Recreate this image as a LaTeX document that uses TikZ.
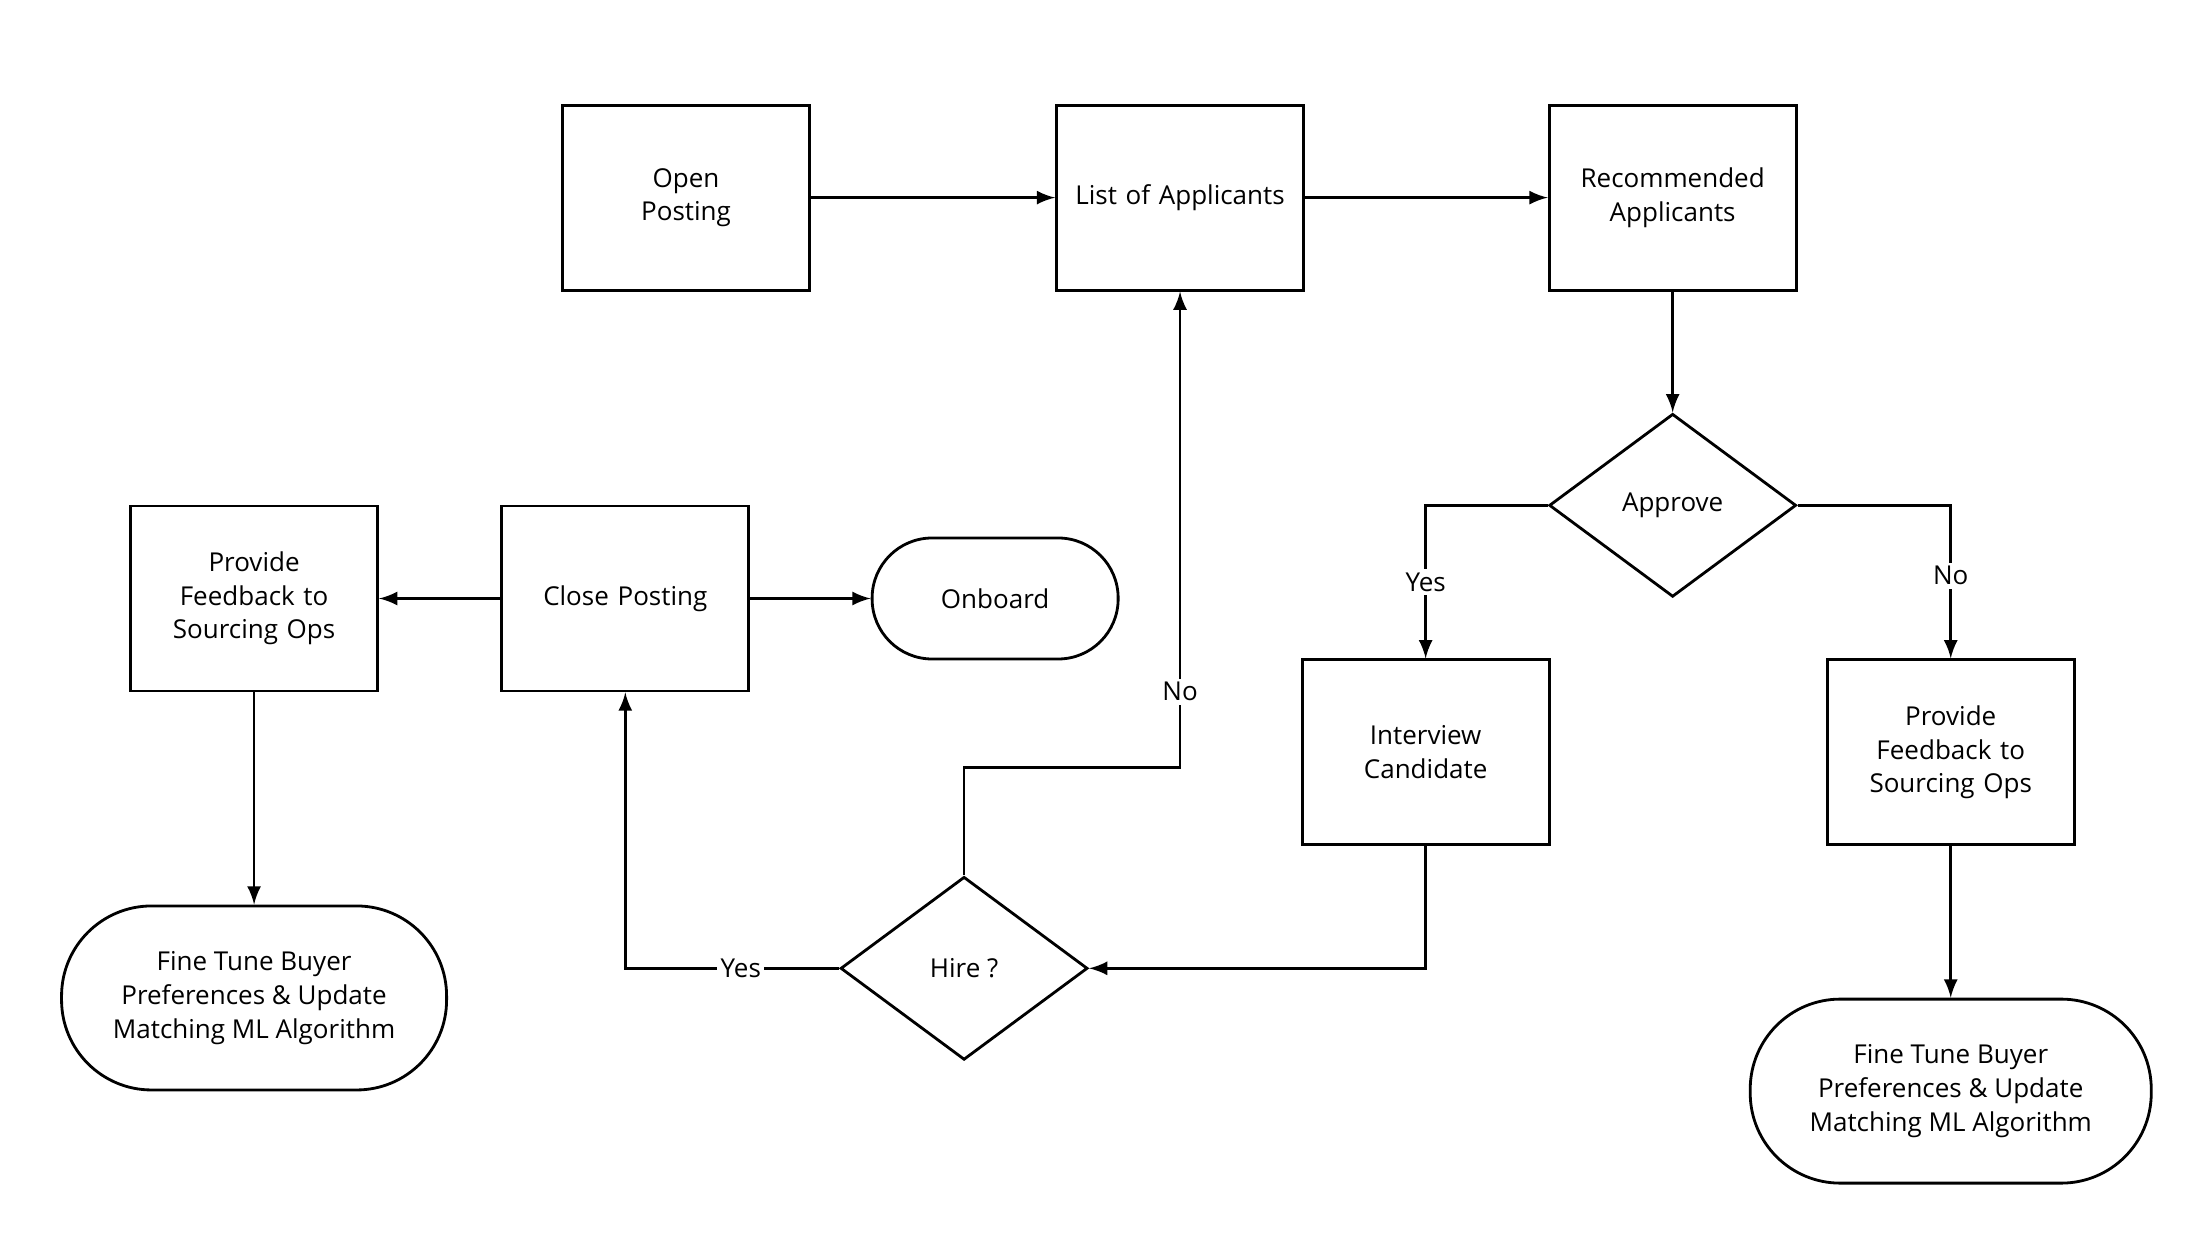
\documentclass[tikz,border=0pt]{standalone}
\usepackage{fontspec}
\setmainfont{Open Sans}
\usetikzlibrary{positioning, arrows, shapes.geometric, calc}
\tikzstyle{process} = [rectangle, minimum width=2.47cm, minimum height=1.85cm, text width=2.1cm, align=center, draw=black, line width=0.8pt]
\tikzstyle{decision} = [diamond, aspect=1.35, minimum width=2.47cm, minimum height=1.83cm, inner sep=0pt, align=center, draw=black, line width=0.8pt]
\tikzstyle{terminal} = [rectangle, rounded corners=0.6cm, minimum width=2.46cm, minimum height=1.21cm, align=center, draw=black, line width=0.8pt]
\tikzstyle{bigterminal} = [rectangle, rounded corners=0.9cm, minimum width=3.88cm, minimum height=1.84cm, align=center, draw=black, line width=0.8pt]
\tikzstyle{arrow} = [line width=0.8pt,->,>=latex]
\tikzstyle{lbl} = [fill=white, inner sep=1pt]

\begin{document}
\begin{tikzpicture}[x=0.014115cm, y=0.014115cm, font=\fontsize{7.4}{9.6}\selectfont]
        \useasboundingbox (0,0) rectangle (1560,-877);
        \node (open) [process] at (486,-140) {Open\\Posting};
        \node (list) [process] at (836,-140) {List of Applicants};
        \node (recommended) [process] at (1185,-140) {Recommended\\Applicants};
        \node (approve) [decision] at (1185,-358) {Approve};
        \node (interview) [process] at (1010,-533) {Interview\\Candidate};
        \node (feedbackr) [process] at (1382,-533) {Provide\\Feedback to\\Sourcing Ops};
        \node (tuner) [bigterminal, minimum width=4.01cm] at (1382,-773) {Fine Tune Buyer\\Preferences \& Update\\Matching ML Algorithm};
        \node (hire) [decision] at (683,-686) {Hire ?};
        \node (close) [process] at (443,-424) {Close Posting};
        \node (onboard) [terminal] at (705,-424) {Onboard};
        \node (feedbackl) [process] at (180,-424) {Provide\\Feedback to\\Sourcing Ops};
        \node (tunel) [bigterminal, minimum width=3.85cm] at (180,-707) {Fine Tune Buyer\\Preferences \& Update\\Matching ML Algorithm};
        \coordinate (bend) at (836,-544);

        \draw [arrow] (open) -- (list);
        \draw [arrow] (list) -- (recommended);
        \draw [arrow] (recommended) -- (approve);
        \draw [arrow] (approve.west) -| node[lbl, pos=0.75]{Yes} (interview);
        \draw [arrow] (approve.east) -| node[lbl, pos=0.73]{No} (feedbackr);
        \draw [arrow] (feedbackr) -- (tuner);
        \draw [arrow] (interview) |- (hire.east);
        \draw [arrow] (hire.north) |- (bend) -- node[lbl, pos=0.16]{No} (list);
        \draw [arrow] (hire.west) -| node[lbl, pos=0.23]{Yes} (close);
        \draw [arrow] (close) -- (onboard);
        \draw [arrow] (close) -- (feedbackl);
        \draw [arrow] (feedbackl) -- (tunel);
\end{tikzpicture}
\end{document}
